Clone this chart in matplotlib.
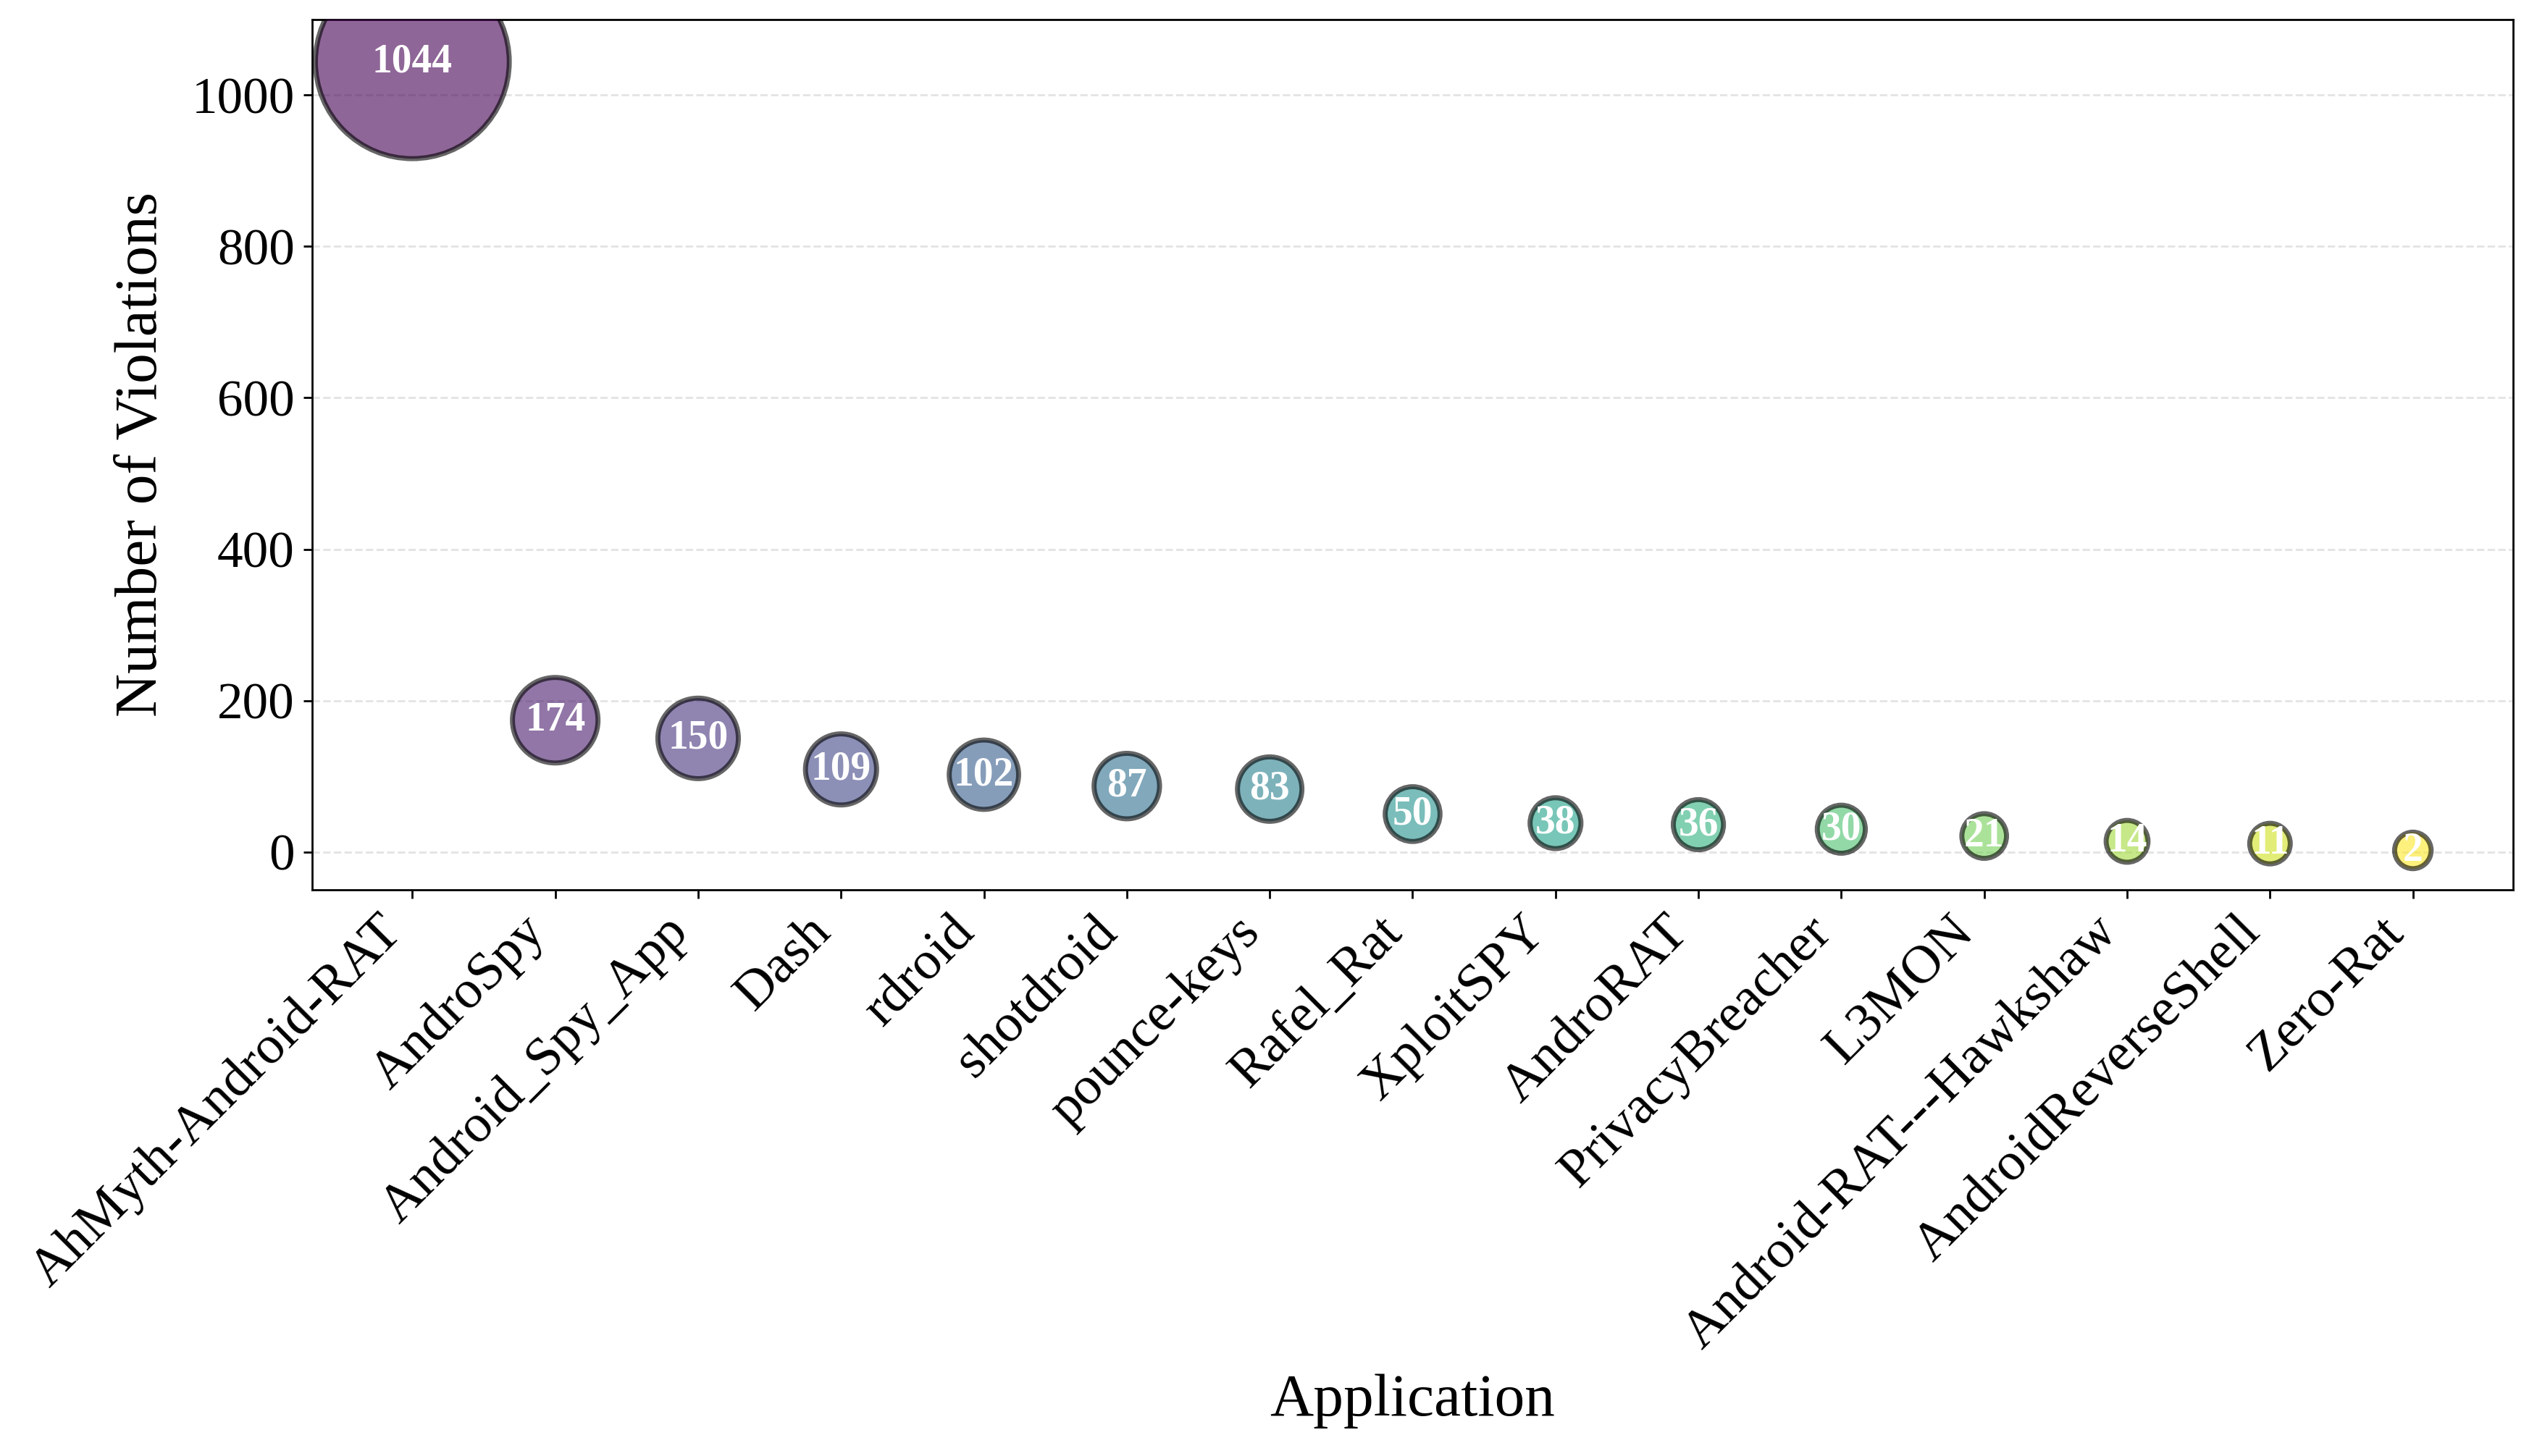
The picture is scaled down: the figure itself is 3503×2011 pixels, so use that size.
import numpy as np
import matplotlib
matplotlib.use("Agg")
import matplotlib.pyplot as plt

plt.rcParams['font.family'] = ['Liberation Serif', 'DejaVu Serif']

# data
apps = ["AhMyth-Android-RAT", "AndroSpy", "Android_Spy_App", "Dash", "rdroid",
        "shotdroid", "pounce-keys", "Rafel_Rat", "XploitSPY", "AndroRAT",
        "PrivacyBreacher", "L3MON", "Android-RAT---Hawkshaw",
        "AndroidReverseShell", "Zero-Rat"]
violations = [1044, 174, 150, 109, 102, 87, 83, 50, 38, 36, 30, 21, 14, 11, 2]

x = np.arange(len(apps))
vals = np.array(violations)
colors = plt.cm.viridis(np.linspace(0, 1, len(apps)))

fig = plt.figure(figsize=(3503 / 250, 2011 / 250), dpi=250)
ax = fig.add_axes([0.1231, 0.3889, 0.8674, 0.5978])

# bubble area grows with the count
ax.scatter(x, vals, s=200 + 5.5 * vals, c=colors, alpha=0.6,
           edgecolors='black', linewidths=2, zorder=3)

for xi, v in zip(x, vals):
    ax.text(xi, v, str(v), ha='center', va='center', color='white',
            fontsize=16, fontweight='bold', zorder=4)

ax.set_xlim(-0.7, len(apps) - 0.3)
ax.set_ylim(-50, 1100)
ax.set_xticks(x)
ax.set_xticklabels(apps, rotation=45, ha='right', fontsize=21.5)
ax.tick_params(axis='y', labelsize=20.5)
ax.set_xlabel("Application", fontsize=24, labelpad=6)
ax.set_ylabel("Number of Violations", fontsize=24, labelpad=9)
ax.grid(axis='y', linestyle='--', color='#dddddd', alpha=0.8, zorder=0)
ax.set_axisbelow(True)

fig.savefig("out.png", dpi=250)
